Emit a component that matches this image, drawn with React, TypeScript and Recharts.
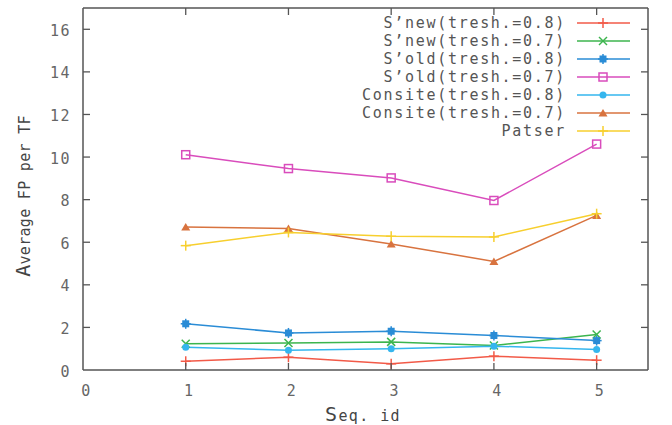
import React from 'react';
import { LineChart, Line, XAxis, YAxis } from 'recharts';

const seqIds = [1, 2, 3, 4, 5];
const snew08 = [0.41, 0.6, 0.29, 0.65, 0.46];
const snew07 = [1.23, 1.27, 1.32, 1.15, 1.67];
const sold08 = [2.17, 1.74, 1.82, 1.62, 1.38];
const sold07 = [10.11, 9.46, 9.02, 7.96, 10.61];
const consite08 = [1.07, 0.93, 1.0, 1.12, 0.96];
const consite07 = [6.72, 6.65, 5.92, 5.1, 7.26];
const patser = [5.84, 6.46, 6.28, 6.25, 7.34];

const xTicks = [0, 1, 2, 3, 4, 5];
const yTicks = [0, 2, 4, 6, 8, 10, 12, 14, 16];

const seriesNames = [
  'S\u2019new(tresh.=0.8)',
  'S\u2019new(tresh.=0.7)',
  'S\u2019old(tresh.=0.8)',
  'S\u2019old(tresh.=0.7)',
  'Consite(tresh.=0.8)',
  'Consite(tresh.=0.7)',
  'Patser',
];

const data = seqIds.map((x, i) => ({
  x,
  snew08: snew08[i],
  snew07: snew07[i],
  sold08: sold08[i],
  sold07: sold07[i],
  consite08: consite08[i],
  consite07: consite07[i],
  patser: patser[i],
}));

type Shape = 'plus' | 'cross' | 'star' | 'square' | 'circle' | 'triangle';

const series: { key: string; name: string; color: string; shape: Shape }[] = [
  { key: 'snew08', name: seriesNames[0], color: '#f25a48', shape: 'plus' },
  { key: 'snew07', name: seriesNames[1], color: '#3cb54e', shape: 'cross' },
  { key: 'sold08', name: seriesNames[2], color: '#2a8cd6', shape: 'star' },
  { key: 'sold07', name: seriesNames[3], color: '#d94cbc', shape: 'square' },
  { key: 'consite08', name: seriesNames[4], color: '#35b6ee', shape: 'circle' },
  { key: 'consite07', name: seriesNames[5], color: '#d8733f', shape: 'triangle' },
  { key: 'patser', name: seriesNames[6], color: '#f7cf2e', shape: 'plus' },
];

const FRAME = '#555';
const TICK_TEXT = '#666';
const MONO = '"DejaVu Sans Mono", "Liberation Mono", monospace';

function Marker({ cx, cy, shape, color }: { cx: number; cy: number; shape: Shape; color: string }) {
  const sw = 1.5;
  switch (shape) {
    case 'plus':
      return (
        <g>
          <line x1={cx - 5} x2={cx + 5} y1={cy} y2={cy} stroke={color} strokeWidth={sw} />
          <line x1={cx} x2={cx} y1={cy - 5} y2={cy + 5} stroke={color} strokeWidth={sw} />
        </g>
      );
    case 'cross':
      return (
        <g>
          <line x1={cx - 4} x2={cx + 4} y1={cy - 4} y2={cy + 4} stroke={color} strokeWidth={sw} />
          <line x1={cx - 4} x2={cx + 4} y1={cy + 4} y2={cy - 4} stroke={color} strokeWidth={sw} />
        </g>
      );
    case 'star':
      return (
        <g>
          <rect x={cx - 3.5} y={cy - 3.5} width={7} height={7} fill={color} />
          <line x1={cx - 5} x2={cx + 5} y1={cy} y2={cy} stroke={color} strokeWidth={sw} />
          <line x1={cx} x2={cx} y1={cy - 5} y2={cy + 5} stroke={color} strokeWidth={sw} />
        </g>
      );
    case 'square':
      return <rect x={cx - 4} y={cy - 4} width={8} height={8} fill="none" stroke={color} strokeWidth={sw} />;
    case 'circle':
      return <circle cx={cx} cy={cy} r={3.5} fill={color} />;
    case 'triangle':
      return <path d={`M${cx - 4.5},${cy + 3.5} L${cx + 4.5},${cy + 3.5} L${cx},${cy - 4} Z`} fill={color} />;
  }
  return null;
}

const makeDot = (shape: Shape, color: string) => (props: any) => {
  const { cx, cy, index } = props;
  if (cx == null || cy == null) return <g key={`d-${index}`} />;
  return (
    <g key={`d-${shape}-${index}`}>
      <Marker cx={cx} cy={cy} shape={shape} color={color} />
    </g>
  );
};

const BottomTick = (props: any) => {
  const { x, y, payload } = props;
  return (
    <g>
      {payload.value !== 0 && <line x1={x} x2={x} y1={y} y2={y - 7} stroke={FRAME} strokeWidth={1.3} />}
      <text x={x + 3.5} y={y + 25.5} textAnchor="middle" fontFamily={MONO} fontSize={15} letterSpacing={1.5} fill={TICK_TEXT}>
        {payload.value}
      </text>
    </g>
  );
};

const TopTick = (props: any) => {
  const { x, y, payload } = props;
  if (payload.value === 0) return <g />;
  return <line x1={x} x2={x} y1={y} y2={y + 7} stroke={FRAME} strokeWidth={1.3} />;
};

const LeftTick = (props: any) => {
  const { x, y, payload } = props;
  return (
    <g>
      {payload.value !== 0 && <line x1={x} x2={x + 7} y1={y} y2={y} stroke={FRAME} strokeWidth={1.3} />}
      <text x={x - 12} y={y + 6.5} textAnchor="end" fontFamily={MONO} fontSize={15} letterSpacing={1.5} fill={TICK_TEXT}>
        {payload.value}
      </text>
    </g>
  );
};

const RightTick = (props: any) => {
  const { x, y, payload } = props;
  if (payload.value === 0) return <g />;
  return <line x1={x} x2={x - 7} y1={y} y2={y} stroke={FRAME} strokeWidth={1.3} />;
};

const YTitle = () => (
  <text
    x={30}
    y={196}
    transform="rotate(-90, 30, 196)"
    textAnchor="middle"
    fontFamily={MONO}
    fontSize={15}
    letterSpacing={0.3}
    fill="#444"
  >
    <tspan fontSize={20}>A</tspan>verage FP per TF
  </text>
);

const XTitle = () => (
  <text x={363} y={421} textAnchor="middle" fontFamily={MONO} fontSize={15} letterSpacing={1.4} fill="#444">
    <tspan fontSize={20}>S</tspan>eq. id
  </text>
);

const LegendBox = () => (
  <div
    style={{
      position: 'absolute',
      top: 14,
      left: 230,
      width: 400,
      display: 'flex',
      flexDirection: 'column',
      pointerEvents: 'none',
    }}
  >
    {series.map((s) => (
      <div
        key={s.key}
        style={{ display: 'flex', alignItems: 'center', justifyContent: 'flex-end', height: 18 }}
      >
        <span
          style={{
            fontFamily: MONO,
            fontSize: 15,
            letterSpacing: 1.7,
            color: '#555',
            lineHeight: '18px',
            whiteSpace: 'nowrap',
          }}
        >
          {s.name}
        </span>
        <svg width={53} height={18} style={{ marginLeft: 11, display: 'block' }}>
          <line x1={0} x2={53} y1={9} y2={9} stroke={s.color} strokeWidth={1.6} />
          <Marker cx={26} cy={9} shape={s.shape} color={s.color} />
        </svg>
      </div>
    ))}
  </div>
);

export default function App() {
  return (
    <div style={{ position: 'absolute', left: 0, top: 0, width: 672, height: 425, background: '#fff' }}>
      <LineChart width={672} height={425} data={data} margin={{ top: 7, right: 23, bottom: 1, left: 0 }}>
        <XAxis
          type="number"
          dataKey="x"
          domain={[0, 5.5]}
          ticks={xTicks}
          allowDataOverflow
          height={54}
          tickSize={0}
          tickMargin={0}
          tickLine={false}
          axisLine={{ stroke: FRAME, strokeWidth: 1.5 }}
          tick={<BottomTick />}
          label={{ content: () => <XTitle /> }}
        />
        <XAxis
          xAxisId="top"
          orientation="top"
          type="number"
          dataKey="x"
          domain={[0, 5.5]}
          ticks={xTicks}
          allowDataOverflow
          height={1}
          tickSize={0}
          tickMargin={0}
          tickLine={false}
          axisLine={{ stroke: FRAME, strokeWidth: 1.5 }}
          tick={<TopTick />}
        />
        <YAxis
          type="number"
          domain={[0, 17]}
          ticks={yTicks}
          allowDataOverflow
          width={83}
          tickSize={0}
          tickMargin={0}
          tickLine={false}
          axisLine={{ stroke: FRAME, strokeWidth: 1.5 }}
          tick={<LeftTick />}
          label={{ content: () => <YTitle /> }}
        />
        <YAxis
          yAxisId="right"
          orientation="right"
          type="number"
          domain={[0, 17]}
          ticks={yTicks}
          allowDataOverflow
          width={1}
          tickSize={0}
          tickMargin={0}
          tickLine={false}
          axisLine={{ stroke: FRAME, strokeWidth: 1.5 }}
          tick={<RightTick />}
        />
        {series.map((s, i) => (
          <Line
            key={s.key}
            type="linear"
            dataKey={s.key}
            name={s.name}
            xAxisId={i === series.length - 1 ? 'top' : 0}
            yAxisId={i === series.length - 1 ? 'right' : 0}
            stroke={s.color}
            strokeWidth={1.5}
            dot={makeDot(s.shape, s.color)}
            activeDot={false}
            isAnimationActive={false}
          />
        ))}
      </LineChart>
      <LegendBox />
    </div>
  );
}
